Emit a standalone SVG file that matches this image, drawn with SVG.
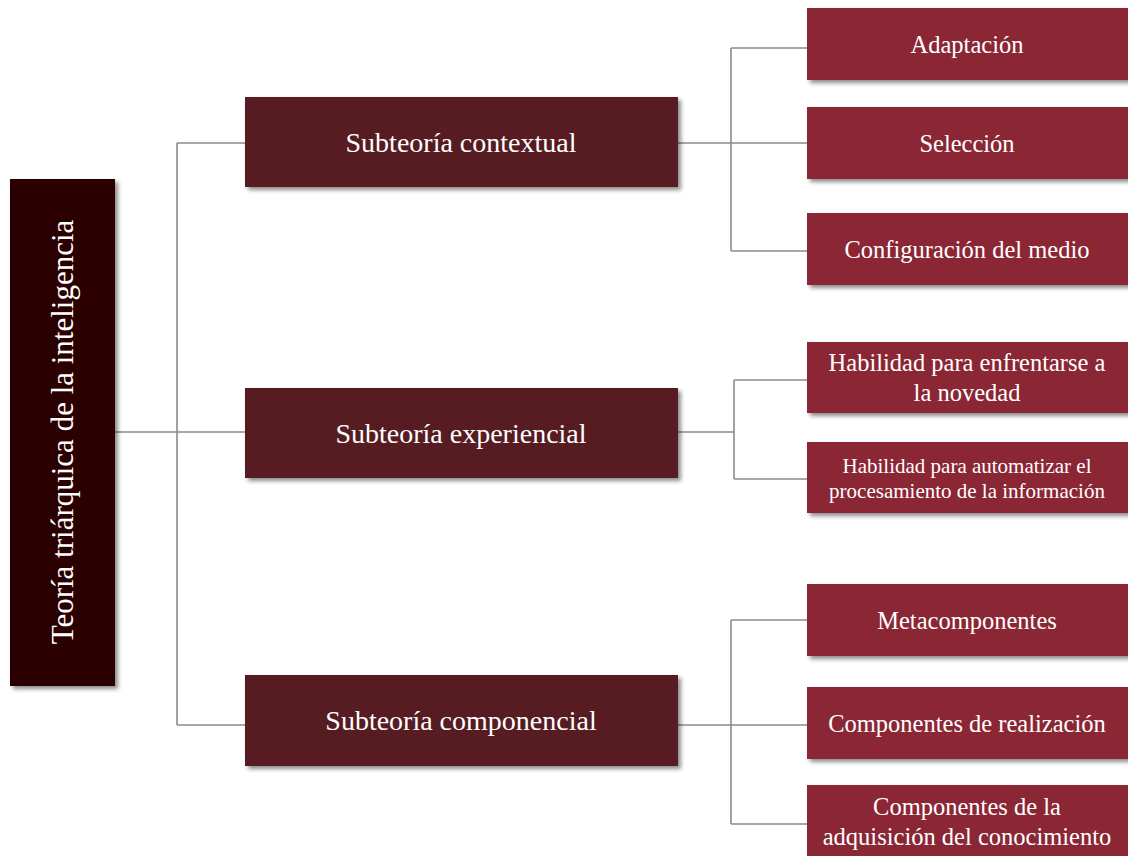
<svg xmlns="http://www.w3.org/2000/svg" width="1128" height="856" viewBox="0 0 1128 856">
  <defs>
    <filter id="shadow" x="-10%" y="-10%" width="130%" height="140%">
      <feDropShadow dx="3" dy="3" stdDeviation="2" flood-color="#000" flood-opacity="0.45"/>
    </filter>
    <style>
      .root { fill: #2B0505; filter: url(#shadow); }
      .mid { fill: #561E22; filter: url(#shadow); }
      .leaf { fill: #8B2535; filter: url(#shadow); }
      .label { font-family: "Liberation Serif", "Times New Roman", serif; fill: #ffffff; text-anchor: middle; }
      .conn { fill: none; stroke: #8c8c8c; stroke-width: 1.6; }
    </style>
  </defs>
  <rect width="1128" height="856" fill="#ffffff"/>

  <!-- connectors -->
  <g id="connectors">
    <path class="conn" d="M115 432 H245 M177 143 V725 M177 143 H245 M177 725 H245"/>
    <path class="conn" d="M678 143 H807 M731 48 V251 M731 48 H807 M731 251 H807"/>
    <path class="conn" d="M678 432 H734 M734 380 V479 M734 380 H807 M734 479 H807"/>
    <path class="conn" d="M678 725 H807 M731 620 V824 M731 620 H807 M731 824 H807"/>
  </g>

  <!-- root -->
  <g id="root">
    <rect class="root" x="10" y="179" width="105" height="507"/>
    <text class="label" font-size="31" transform="translate(73 432) rotate(-90)">Teoría triárquica de la inteligencia</text>
  </g>

  <!-- subtheories -->
  <g id="contextual">
    <rect class="mid" x="245" y="97" width="433" height="90"/>
    <text class="label" font-size="28" x="461" y="152">Subteoría contextual</text>
  </g>
  <g id="experiencial">
    <rect class="mid" x="245" y="388" width="433" height="90"/>
    <text class="label" font-size="28" x="461" y="443">Subteoría experiencial</text>
  </g>
  <g id="componencial">
    <rect class="mid" x="245" y="675" width="433" height="91"/>
    <text class="label" font-size="28" x="461" y="730">Subteoría componencial</text>
  </g>

  <!-- contextual leaves -->
  <g id="adaptacion">
    <rect class="leaf" x="807" y="8" width="325" height="72"/>
    <text class="label" font-size="24.5" x="967" y="53">Adaptación</text>
  </g>
  <g id="seleccion">
    <rect class="leaf" x="807" y="107" width="325" height="72"/>
    <text class="label" font-size="24.5" x="967" y="152">Selección</text>
  </g>
  <g id="configuracion">
    <rect class="leaf" x="807" y="213" width="325" height="72"/>
    <text class="label" font-size="24.5" x="967" y="258">Configuración del medio</text>
  </g>

  <!-- experiencial leaves -->
  <g id="novedad">
    <rect class="leaf" x="807" y="342" width="325" height="71"/>
    <text class="label" font-size="24.5" x="967" y="371">Habilidad para enfrentarse a</text>
    <text class="label" font-size="24.5" x="967" y="401">la novedad</text>
  </g>
  <g id="automatizar">
    <rect class="leaf" x="807" y="442" width="325" height="71"/>
    <text class="label" font-size="21" x="967" y="473">Habilidad para automatizar el</text>
    <text class="label" font-size="21" x="967" y="498">procesamiento de la información</text>
  </g>

  <!-- componencial leaves -->
  <g id="metacomponentes">
    <rect class="leaf" x="807" y="584" width="325" height="72"/>
    <text class="label" font-size="24.5" x="967" y="629">Metacomponentes</text>
  </g>
  <g id="realizacion">
    <rect class="leaf" x="807" y="687" width="325" height="72"/>
    <text class="label" font-size="24.5" x="967" y="732">Componentes de realización</text>
  </g>
  <g id="adquisicion">
    <rect class="leaf" x="807" y="785" width="325" height="80"/>
    <text class="label" font-size="24.5" x="967" y="815">Componentes de la</text>
    <text class="label" font-size="24.5" x="967" y="845">adquisición del conocimiento</text>
  </g>
</svg>
